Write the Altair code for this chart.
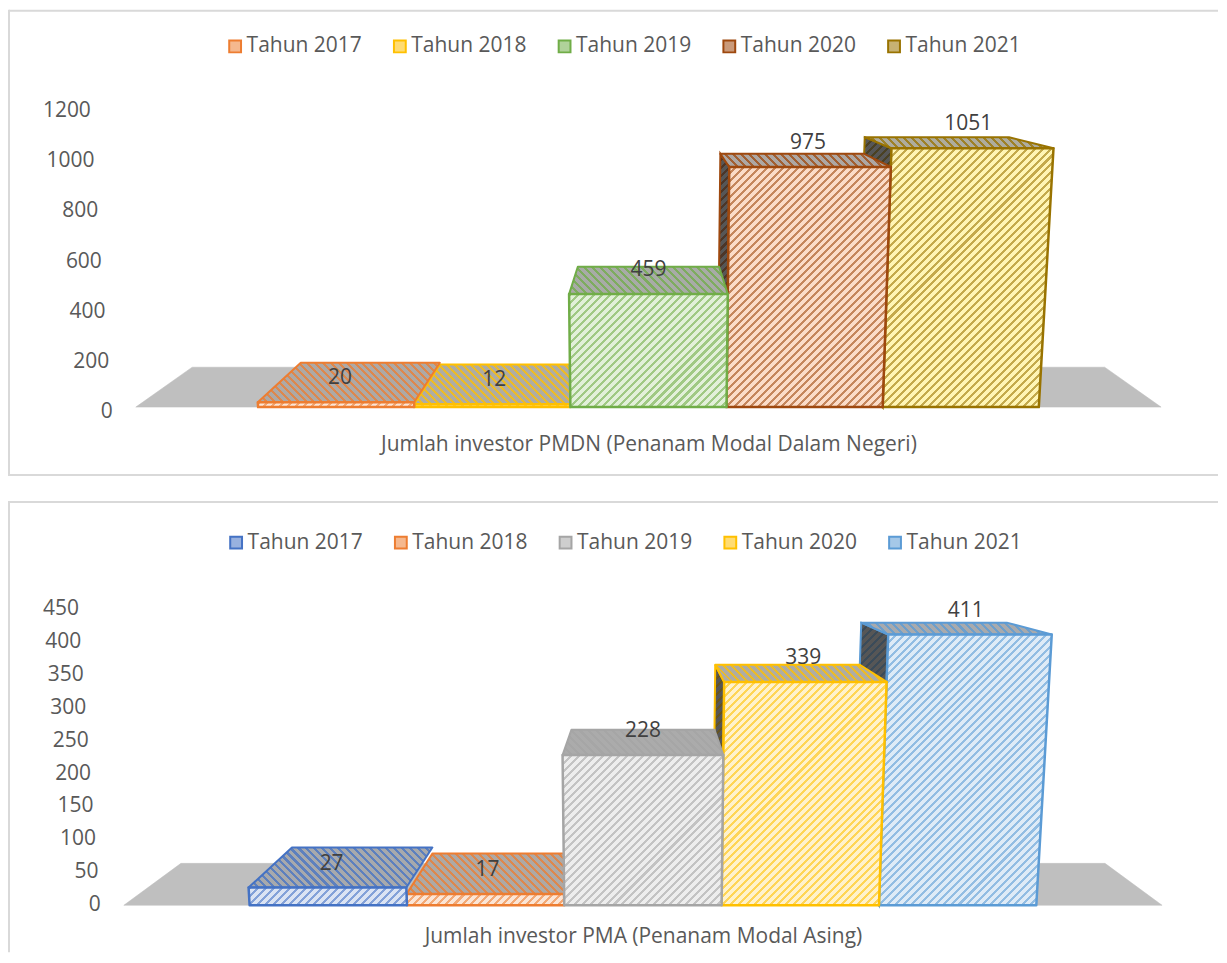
import altair as alt
import pandas as pd

# ---- values
series = ["Tahun 2017", "Tahun 2018", "Tahun 2019", "Tahun 2020", "Tahun 2021"]
pmdn_values = [20, 12, 459, 975, 1051]
pma_values = [27, 17, 228, 339, 411]
pmdn_ticks = [0, 200, 400, 600, 800, 1000, 1200]
pma_ticks = [0, 50, 100, 150, 200, 250, 300, 350, 400, 450]
pmdn_label = "Jumlah investor PMDN (Penanam Modal Dalam Negeri)"
pma_label = "Jumlah investor PMA (Penanam Modal Asing)"

# ---- colours
pmdn_colors = ["#ED7D31", "#FFC000", "#70AD47", "#9E480E", "#997300"]
pmdn_tints = ["#FBE5D6", "#FFF2CC", "#E2F0D9", "#FBDCC8", "#FFF5B5"]
pma_colors = ["#4472C4", "#ED7D31", "#A5A5A5", "#FFC000", "#5B9BD5"]
pma_tints = ["#DAE3F3", "#FBE5D6", "#EDEDED", "#FFF2CC", "#DEEBF7"]
text_color = "#595959"
label_color = "#404040"
floor_color = "#BFBFBF"
frame_color = "#D9D9D9"
font = "Open Sans"
font_size = 21

# ---- layout of the 3-D look
WIDTH = 1211
PERIOD = 8
PAINT_ORDER = [4, 3, 1, 0, 2]


def mix(a, b, t):
    ca = [int(a[i:i + 2], 16) for i in (1, 3, 5)]
    cb = [int(b[i:i + 2], 16) for i in (1, 3, 5)]
    return "#" + "".join(f"{round(x + (y - x) * t):02X}" for x, y in zip(ca, cb))


def hatch(w, h, c1, c2, rising=True):
    n = max(1, round((w + h) / PERIOD))
    c = (w + h) / (w * w + h * h)
    stops = []
    for i in range(n):
        a, b, e = i / n, (i + 0.38) / n, (i + 1) / n
        stops += [
            {"offset": round(a, 5), "color": c1},
            {"offset": round(b, 5), "color": c1},
            {"offset": round(b, 5), "color": c2},
            {"offset": round(e, 5), "color": c2},
        ]
    if rising:
        return alt.LinearGradient(gradient="linear", stops=stops, x1=0, y1=0, x2=w * c, y2=h * c)
    return alt.LinearGradient(gradient="linear", stops=stops, x1=0, y1=1, x2=w * c, y2=1 - h * c)


def panel(values, ticks, colors, tints, label, cx, slot, base, k, top, height, floor_half, depth, leg_x, leg_y, nudge, has_bottom, label_gap):
    vmax = ticks[-1]
    xs = alt.Scale(domain=[(8 - cx) / slot, (8 + WIDTH - cx) / slot], nice=False, zero=False)
    ys = alt.Scale(domain=[(base - top - height) / k, (base - top) / k], nice=False, zero=False)
    x_axis = alt.Axis(
        values=[0], labelExpr=repr(label), domain=False, ticks=False, grid=False, title=None,
        labelFont=font, labelFontSize=font_size, labelColor=text_color, labelPadding=0,
        labelLimit=1000, offset=base - top - height + label_gap,
        labelFlush=False, labelBound=False, labelOverlap=False)
    X = alt.X("x:Q", scale=xs, axis=x_axis)
    Y = alt.Y("y:Q", scale=ys, axis=None)

    def proj(s, v, d):
        return (s * (1 + 0.043 * v / vmax) * (1 - 0.11 * d),
                v + d * (depth - 33 * v / vmax) / k)

    def quad(pts, **mark):
        df = pd.DataFrame(pts, columns=["x", "y"])
        df["i"] = range(len(df))
        return alt.Chart(df).mark_line(interpolate="linear-closed", **mark).encode(
            x=X, y=Y, order=alt.Order("i:Q"))

    def box(pts):
        px = [p[0] * slot for p in pts]
        py = [p[1] * k for p in pts]
        return max(px) - min(px), max(max(py) - min(py), 1)

    layers = []
    blank = alt.Data(values=[{}])
    # frame
    layers.append(alt.Chart(blank).mark_rule(color=frame_color, strokeWidth=2).encode(
        x=alt.value(0), x2=alt.value(WIDTH), y=alt.value(1)))
    layers.append(alt.Chart(blank).mark_rule(color=frame_color, strokeWidth=2).encode(
        x=alt.value(0), y=alt.value(0), y2=alt.value(height)))
    if has_bottom:
        layers.append(alt.Chart(blank).mark_rule(color=frame_color, strokeWidth=2).encode(
            x=alt.value(0), x2=alt.value(WIDTH), y=alt.value(height - 1)))

    # floor
    fh = floor_half / slot
    layers.append(quad([(-fh, 0), (fh, 0), (fh * 0.89, depth / k), (-fh * 0.89, depth / k)],
                       fill=floor_color, stroke=floor_color, strokeWidth=0.5))

    # bars, outer ones first
    for idx in PAINT_ORDER:
        v = values[idx]
        s0, s1 = idx - 2.5, idx - 1.5
        color, tint = colors[idx], tints[idx]
        top_pts = [proj(s0, v, 0), proj(s1, v, 0), proj(s1, v, 1), proj(s0, v, 1)]
        front = [proj(s0, 0, 0), proj(s1, 0, 0), proj(s1, v, 0), proj(s0, v, 0)]
        if s0 > 0:
            side = [proj(s0, 0, 0), proj(s0, v, 0), proj(s0, v, 1), proj(s0, 0, 1)]
            w, h = box(side)
            layers.append(quad(side, stroke=color, strokeWidth=2,
                               fill=hatch(w, h, mix(color, "#303030", 0.75), "#565656")))
        w, h = box(top_pts)
        bg = mix(tint, "#9A9A9A", 0.8)
        layers.append(quad(top_pts, stroke=color, strokeWidth=2, strokeJoin="round",
                           fill=hatch(w, h, mix(color, bg, 0.25), bg, rising=False)))
        w, h = box(front)
        layers.append(quad(front, stroke=color, strokeWidth=2.5, strokeJoin="round",
                           fill=hatch(w, h, mix(color, tint, 0.42), tint)))

    # data labels
    lab = pd.DataFrame({
        "x": [proj(i - 2, v, 0.12)[0] for i, v in enumerate(values)],
        "y": values,
        "t": [str(v) for v in values],
    })
    layers.append(alt.Chart(lab).mark_text(
        font=font, fontSize=font_size, color=label_color, dy=-24, baseline="middle", align="center").encode(
        x=X, y=Y, text="t:N"))

    # value tick labels along the slanted left wall
    tk = pd.DataFrame({
        "x": [(-floor_half - 23 - 22 * t / vmax) / slot for t in ticks],
        "y": [t - nudge * (1 - 1.1 * t / vmax) / k for t in ticks],
        "t": [str(t) for t in ticks],
    })
    layers.append(alt.Chart(tk).mark_text(
        font=font, fontSize=font_size, color=text_color, baseline="middle", align="right").encode(
        x=X, y=Y, text="t:N"))

    # legend
    leg = pd.DataFrame({"s": series, "x": [0] * 5, "y": [0] * 5})
    legend = alt.Legend(
        orient="none", legendX=leg_x, legendY=leg_y,
        direction="horizontal", columns=5, title=None, symbolType="square", symbolSize=140,
        symbolOpacity=1, symbolStrokeWidth=2, labelFont=font, labelFontSize=font_size,
        labelColor=text_color, labelOffset=1, columnPadding=27, symbolOffset=0, padding=0)
    layers.append(alt.Chart(leg).mark_square(size=0, opacity=0).encode(
        x=X, y=Y,
        fill=alt.Fill("s:N", sort=series, legend=legend, scale=alt.Scale(
            domain=series, range=[mix(c, "#FFFFFF", 0.45) for c in colors])),
        stroke=alt.Stroke("s:N", sort=series, legend=legend, scale=alt.Scale(
            domain=series, range=colors)),
    ))
    return alt.layer(*layers).properties(width=WIDTH, height=height)


p1 = panel(pmdn_values, pmdn_ticks, pmdn_colors, pmdn_tints, pmdn_label,
           648.5, 156.4, 407, 0.2467, 9, 467, 513.5, 40, 216, 26, 5, True, 26)
p2 = panel(pma_values, pma_ticks, pma_colors, pma_tints, pma_label,
           643, 157.6, 904, 0.66, 499, 452, 520, 42, 217, 31, 0, False, 20)

chart = (alt.vconcat(p1, p2, spacing=23)
         .resolve_scale(fill="independent", stroke="independent")
         .resolve_legend(fill="independent", stroke="independent")
         .properties(padding=0)
         .configure_view(stroke=None))
chart.save("out.html", embed_options={"renderer": "svg", "actions": False})
